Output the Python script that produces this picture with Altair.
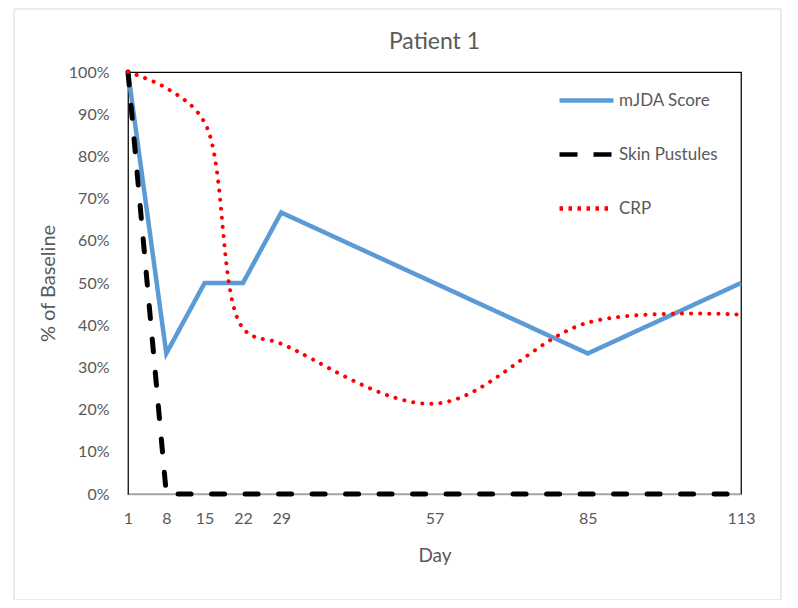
import altair as alt
import pandas as pd

days = [1, 8, 15, 22, 29, 57, 85, 113]
mjda = [1.0, 0.333, 0.5, 0.5, 0.667, 0.5, 0.333, 0.5]
pustules = [1.0, 0.0, 0.0, 0.0, 0.0, 0.0, 0.0, 0.0]
crp = [1.0, 0.962, 0.88, 0.393, 0.356, 0.214, 0.406, 0.425]
series = ["mJDA Score", "Skin Pustules", "CRP"]
colors = ["#5B9BD5", "#000000", "#FF0000"]
legend_dashes = [[1, 0], [18, 16], [3.5, 5.5]]
line_dashes = {"mJDA Score": [1, 0], "Skin Pustules": [13, 20.5], "CRP": [0.1, 9]}
y_ticks = [i / 10 for i in range(11)]

rows = []
for name, vals in zip(series, [mjda, pustules, crp]):
    for d, v in zip(days, vals):
        rows.append({"Day": d, "Value": v, "Series": name})
df = pd.DataFrame(rows)

FONT = "Lato"
GRAY = "#595959"

x = alt.X("Day:Q", scale=alt.Scale(domain=[1, 113], nice=False, zero=False),
          axis=alt.Axis(values=days, title="Day", grid=False, ticks=False,
                        domainColor="#A6A6A6", domainWidth=1.5, titleFontSize=19,
                        labelPadding=16, titlePadding=20, labelFlush=False))
y = alt.Y("Value:Q", scale=alt.Scale(domain=[0, 1], nice=False),
          axis=alt.Axis(values=y_ticks, format=".0%", title="% of Baseline",
                        grid=False, ticks=False, domain=False, titleFontSize=20,
                        labelPadding=19, titlePadding=10))
color = alt.Color("Series:N", scale=alt.Scale(domain=series, range=colors),
                  legend=alt.Legend(title=None, orient="none", legendX=429, legendY=-1,
                                    symbolType="stroke", symbolSize=2916,
                                    symbolStrokeWidth=4.5, rowPadding=15,
                                    labelOffset=3, padding=0))
dash = alt.StrokeDash("Series:N", scale=alt.Scale(domain=series, range=legend_dashes), legend=None)

base = alt.Chart(df).encode(x=x, y=y, color=color)

# legend-only layer (no drawn data)
leg = base.transform_filter("false").mark_line(strokeWidth=4.5).encode(strokeDash=dash)

l1 = base.transform_filter(alt.datum.Series == "mJDA Score").mark_line(
    strokeWidth=4.5, strokeDash=line_dashes["mJDA Score"])
l2 = base.transform_filter(alt.datum.Series == "Skin Pustules").mark_line(
    strokeWidth=5, strokeCap="round", strokeDash=line_dashes["Skin Pustules"])
l3 = base.transform_filter(alt.datum.Series == "CRP").mark_line(
    strokeWidth=4, strokeCap="round", strokeDash=line_dashes["CRP"], interpolate="catmull-rom")

frame = alt.Chart(pd.DataFrame({"a": [0]})).mark_rect(
    fill=None, stroke="#D9D9D9", strokeWidth=1
).encode(x=alt.value(-114), x2=alt.value(653), y=alt.value(-63), y2=alt.value(528))

chart = alt.layer(frame, leg, l1, l2, l3).properties(
    width=613, height=422,
    title=alt.TitleParams("Patient 1", fontSize=23, font=FONT, color=GRAY,
                          fontWeight="normal", offset=-45),
    autosize=alt.AutoSizeParams(type="none"),
    padding={"left": 120, "top": 64, "right": 49, "bottom": 106},
).configure_view(stroke="#000000", strokeWidth=1.25).configure_axis(
    labelFont=FONT, labelFontSize=16, labelColor=GRAY,
    titleFont=FONT, titleColor=GRAY, titleFontWeight="normal"
).configure_legend(labelFont=FONT, labelFontSize=17, labelColor=GRAY)

chart.save("out.html", embed_options={"renderer": "svg", "actions": False})
